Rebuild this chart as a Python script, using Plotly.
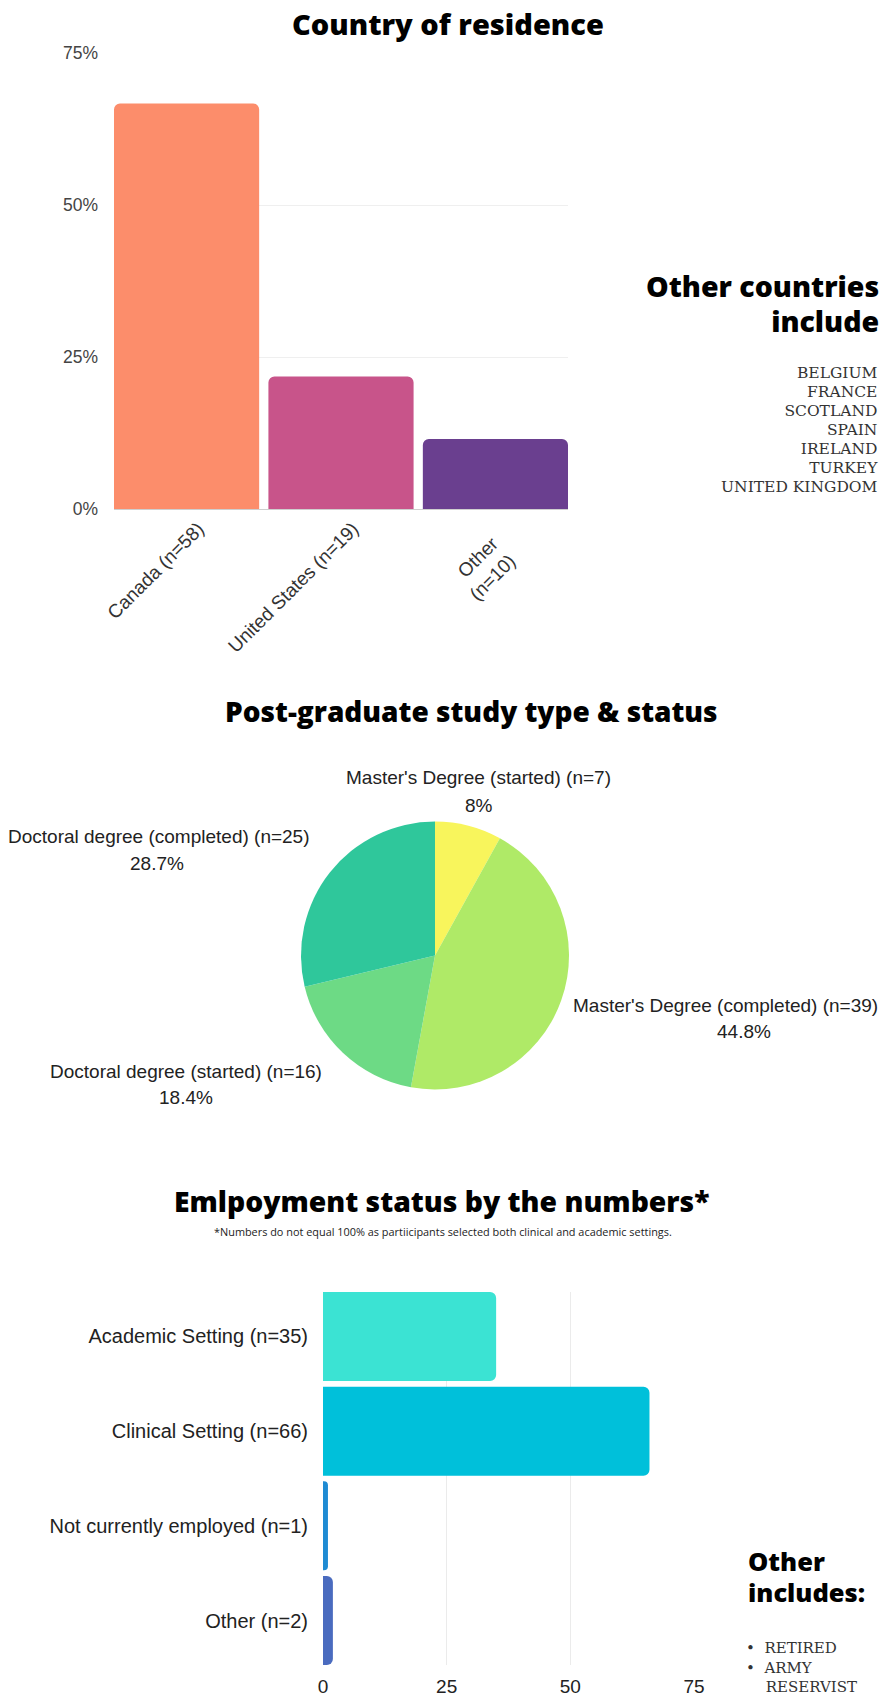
import plotly.graph_objects as go

W, H = 889, 1698

# ---------------- data ----------------
country_labels = ["Canada (n=58)", "United States (n=19)", "Other<br>(n=10)"]
country_pct = [66.7, 21.8, 11.5]
country_colors = ["#fc8d6b", "#c8548a", "#6a3f8f"]
pct_ticks = [0, 25, 50, 75]
pct_tick_text = ["0%", "25%", "50%", "75%"]
other_countries_heading = ["Other countries", "include"]
other_countries = ["BELGIUM", "FRANCE", "SCOTLAND", "SPAIN", "IRELAND", "TURKEY", "UNITED KINGDOM"]

study_labels = ["Master's Degree (started) (n=7)", "Master's Degree (completed) (n=39)",
                "Doctoral degree (started) (n=16)", "Doctoral degree (completed) (n=25)"]
study_counts = [7, 39, 16, 25]
study_pct_text = ["8%", "44.8%", "18.4%", "28.7%"]
study_colors = ["#f8f55c", "#afea67", "#6dda85", "#2fc79b"]

emp_labels = ["Academic Setting (n=35)", "Clinical Setting (n=66)",
              "Not currently employed (n=1)", "Other (n=2)"]
emp_counts = [35, 66, 1, 2]
emp_colors = ["#3be3d3", "#00c0da", "#1f8bd3", "#4a6bbf"]
count_ticks = [0, 25, 50, 75]
emp_other_heading = ["Other", "includes:"]
emp_other = ["RETIRED", "ARMY", "RESERVIST"]

titles = ["Country of residence", "Post-graduate study type & status", "Emlpoyment status by the numbers*"]
emp_note = "*Numbers do not equal 100% as partiicipants selected both clinical and academic settings."


def px(x):
    return x / W


def py(y):
    return 1 - y / H


LABEL_FONT = "Liberation Sans, Arial, sans-serif"
TITLE_FONT = "Open Sans, sans-serif"
SLAB_FONT = "DejaVu Serif, serif"

fig = go.Figure()

# ---- top: country bar chart ----
fig.add_trace(go.Bar(
    x=country_labels, y=country_pct,
    marker=dict(color=country_colors, cornerradius=6, line=dict(width=0)),
    xaxis="x", yaxis="y", showlegend=False, hoverinfo="x+y",
))

# ---- middle: pie ----
pie_cx, pie_cy, pie_r = 435, 955.5, 134
fig.add_trace(go.Pie(
    labels=study_labels, values=study_counts,
    marker=dict(colors=study_colors, line=dict(width=0)),
    sort=False, direction="clockwise", rotation=0,
    textinfo="none", showlegend=False, automargin=False,
    domain=dict(x=[px(pie_cx - pie_r), px(pie_cx + pie_r)],
                y=[py(pie_cy + pie_r), py(pie_cy - pie_r)]),
))

# ---- bottom: employment horizontal bars ----
fig.add_trace(go.Bar(
    y=emp_labels, x=emp_counts, orientation="h",
    marker=dict(color=emp_colors, cornerradius=6, line=dict(width=0)),
    xaxis="x2", yaxis="y2", showlegend=False, hoverinfo="x+y",
))

annotations = []


def add_text(text, x, y, size, family, color="#000", xanchor="center", weight=None, align="center"):
    f = dict(size=size, family=family, color=color)
    if weight is not None:
        f["weight"] = weight
    annotations.append(dict(text=text, x=px(x), y=py(y), xref="paper", yref="paper",
                            xanchor=xanchor, yanchor="middle", align=align,
                            showarrow=False, font=f))


def tight_lines(lines, glyph_size):
    return "<br>".join(f"<span style='font-size:{glyph_size}px'>{s}</span>" for s in lines)


# titles
title_pos = [(448, 24, 29), (472, 711, 28), (441, 1201, 28.3)]
for t, (tx, ty, ts) in zip(titles, title_pos):
    add_text(t, tx, ty, ts, TITLE_FONT, "#000", weight=800)
add_text(emp_note, 443, 1231, 10.9, TITLE_FONT, "#222")

# other countries block
add_text(tight_lines(other_countries_heading, 28.5), 881, 304, 27, TITLE_FONT, "#000",
         xanchor="right", weight=800, align="right")
add_text(tight_lines(other_countries, 15.5), 880, 430, 14.6, SLAB_FONT, "#333",
         xanchor="right", align="right")

# pie labels
pie_label_pos = [(479, 778, 805), (725, 1005, 1031), (186, 1071, 1097), (159, 837, 864)]
pie_pct_x = [479, 744, 186, 157]
for lab, pct, (lx, ly1, ly2), pxx in zip(study_labels, study_pct_text, pie_label_pos, pie_pct_x):
    add_text(lab, lx, ly1, 19, LABEL_FONT, "#222")
    add_text(pct, pxx, ly2, 19, LABEL_FONT, "#222")

# other includes block
add_text(tight_lines(emp_other_heading, 25.5), 746, 1576, 24.2, TITLE_FONT, "#000",
         xanchor="left", weight=800, align="left")
bullet_lines = [("\u2022  " if i < 2 else "\u2003 ") + item for i, item in enumerate(emp_other)]
add_text("<br>".join(bullet_lines), 744, 1667, 15, SLAB_FONT, "#333",
         xanchor="left", align="left")

# rotated category labels: pad the two-line label so it sits like the reference
NB = "\u00a0"
country_ticktext = [
    lab if "<br>" not in lab else "<br>".join(s + NB * 4 for s in lab.split("<br>"))
    for lab in country_labels
]

gap = 0.06
fig.update_layout(
    width=W, height=H,
    margin=dict(l=0, r=0, t=0, b=0, autoexpand=False),
    paper_bgcolor="white", plot_bgcolor="white",
    bargap=gap,
    font=dict(family=LABEL_FONT, color="#333"),
    xaxis=dict(
        domain=[px(114), px(568)], anchor="y", automargin=False,
        range=[-0.5 + gap / 2, 2.5 - gap / 2],
        tickvals=country_labels, ticktext=country_ticktext,
        tickangle=-45, tickfont=dict(size=19, color="#333"),
        ticklabelshift=12, ticklabelstandoff=4,
        showgrid=False, showline=False, zeroline=False, ticks="",
    ),
    yaxis=dict(
        domain=[py(509), py(53)], anchor="x", automargin=False,
        range=[0, 75], tickvals=pct_ticks, ticktext=pct_tick_text,
        tickfont=dict(size=17.5, color="#444"),
        gridcolor="#efefef", gridwidth=1,
        zeroline=True, zerolinecolor="#cfcfcf", zerolinewidth=1,
        showline=False, ticklabelstandoff=15,
    ),
    xaxis2=dict(
        domain=[px(323), px(694)], anchor="y2", automargin=False,
        range=[0, 75], tickvals=count_ticks,
        tickfont=dict(size=19, color="#222"),
        gridcolor="#ebebeb", gridwidth=1,
        zeroline=False, showline=False, ticklabelstandoff=8,
    ),
    yaxis2=dict(
        domain=[py(1665), py(1292)], anchor="x2", automargin=False,
        range=[3.5 - gap / 2, -0.5 + gap / 2],
        tickfont=dict(size=20, color="#222"),
        showgrid=False, showline=False, zeroline=False, ticklabelstandoff=14,
    ),
    annotations=annotations,
)

fig.write_html("out.html", config={"displayModeBar": False},
               post_script="document.body.style.margin='0';")
